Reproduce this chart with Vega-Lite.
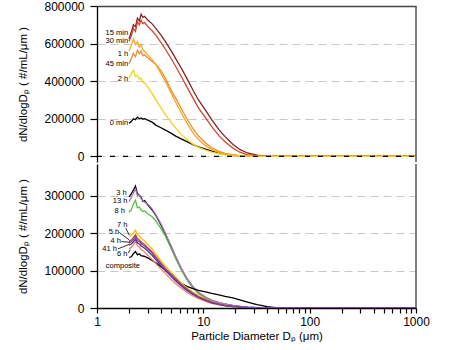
{
"$schema": "https://vega.github.io/schema/vega-lite/v6.json",
"padding": {"left": 17, "top": 0, "right": 0, "bottom": 0},
"background": "white",
"config": {
  "font": "Liberation Sans",
  "view": {"stroke": null},
  "axis": {"labelFont": "Liberation Sans", "labelFontSize": 12, "labelColor": "#000", "tickColor": "#000", "domainColor": "#000", "domainWidth": 1.3, "tickWidth": 1.2, "titleFont": "Liberation Sans", "titleFontSize": 11.5, "titleFontWeight": "normal", "titleColor": "#000", "gridColor": "#c8c8c8", "gridDash": [8, 5], "gridWidth": 1.2, "labelOverlap": false}
},
"datasets": {
"top": [
{"s":"0 min","d":2,"v":177000},{"s":"0 min","d":2.1,"v":185000},{"s":"0 min","d":2.2,"v":200000},{"s":"0 min","d":2.3,"v":195000},{"s":"0 min","d":2.4,"v":208000},{"s":"0 min","d":2.5,"v":200000},{"s":"0 min","d":2.6,"v":204000},{"s":"0 min","d":2.7,"v":198000},{"s":"0 min","d":2.8,"v":200000},{"s":"0 min","d":3,"v":193000},{"s":"0 min","d":3.3,"v":182000},{"s":"0 min","d":3.6,"v":165000},{"s":"0 min","d":4,"v":152000},{"s":"0 min","d":4.4,"v":140000},{"s":"0 min","d":5,"v":122000},{"s":"0 min","d":5.5,"v":108000},{"s":"0 min","d":6.2,"v":93000},{"s":"0 min","d":7,"v":78000},{"s":"0 min","d":8,"v":62000},{"s":"0 min","d":9,"v":50000},{"s":"0 min","d":10.5,"v":38000},{"s":"0 min","d":12,"v":28000},{"s":"0 min","d":14,"v":18000},{"s":"0 min","d":16,"v":12000},{"s":"0 min","d":19,"v":6000},{"s":"0 min","d":22,"v":3000},{"s":"0 min","d":26,"v":1200},{"s":"0 min","d":32,"v":300},{"s":"0 min","d":40,"v":0},{"s":"0 min","d":50,"v":0},{"s":"0 min","d":100,"v":0},{"s":"0 min","d":1000,"v":0},
{"s":"15 min","d":2,"v":624000},{"s":"15 min","d":2.1,"v":660000},{"s":"15 min","d":2.2,"v":700000},{"s":"15 min","d":2.3,"v":690000},{"s":"15 min","d":2.4,"v":735000},{"s":"15 min","d":2.5,"v":720000},{"s":"15 min","d":2.6,"v":756000},{"s":"15 min","d":2.7,"v":740000},{"s":"15 min","d":2.8,"v":745000},{"s":"15 min","d":3,"v":725000},{"s":"15 min","d":3.3,"v":705000},{"s":"15 min","d":3.6,"v":678000},{"s":"15 min","d":4,"v":645000},{"s":"15 min","d":4.4,"v":610000},{"s":"15 min","d":5,"v":560000},{"s":"15 min","d":5.5,"v":520000},{"s":"15 min","d":6.2,"v":470000},{"s":"15 min","d":7,"v":415000},{"s":"15 min","d":8,"v":352000},{"s":"15 min","d":9,"v":300000},{"s":"15 min","d":10.5,"v":245000},{"s":"15 min","d":12,"v":195000},{"s":"15 min","d":14,"v":142000},{"s":"15 min","d":16,"v":105000},{"s":"15 min","d":19,"v":63000},{"s":"15 min","d":22,"v":37000},{"s":"15 min","d":26,"v":18000},{"s":"15 min","d":32,"v":6000},{"s":"15 min","d":40,"v":1500},{"s":"15 min","d":50,"v":0},{"s":"15 min","d":100,"v":0},{"s":"15 min","d":1000,"v":0},
{"s":"30 min","d":2,"v":612000},{"s":"30 min","d":2.1,"v":640000},{"s":"30 min","d":2.2,"v":680000},{"s":"30 min","d":2.3,"v":665000},{"s":"30 min","d":2.4,"v":715000},{"s":"30 min","d":2.5,"v":700000},{"s":"30 min","d":2.6,"v":725000},{"s":"30 min","d":2.7,"v":705000},{"s":"30 min","d":2.8,"v":712000},{"s":"30 min","d":3,"v":690000},{"s":"30 min","d":3.3,"v":668000},{"s":"30 min","d":3.6,"v":642000},{"s":"30 min","d":4,"v":605000},{"s":"30 min","d":4.4,"v":570000},{"s":"30 min","d":5,"v":518000},{"s":"30 min","d":5.5,"v":478000},{"s":"30 min","d":6.2,"v":425000},{"s":"30 min","d":7,"v":370000},{"s":"30 min","d":8,"v":310000},{"s":"30 min","d":9,"v":258000},{"s":"30 min","d":10.5,"v":205000},{"s":"30 min","d":12,"v":158000},{"s":"30 min","d":14,"v":110000},{"s":"30 min","d":16,"v":78000},{"s":"30 min","d":19,"v":43000},{"s":"30 min","d":22,"v":22000},{"s":"30 min","d":26,"v":9000},{"s":"30 min","d":32,"v":2500},{"s":"30 min","d":40,"v":500},{"s":"30 min","d":50,"v":0},{"s":"30 min","d":100,"v":0},{"s":"30 min","d":1000,"v":0},
{"s":"45 min","d":2,"v":492000},{"s":"45 min","d":2.1,"v":520000},{"s":"45 min","d":2.2,"v":548000},{"s":"45 min","d":2.3,"v":530000},{"s":"45 min","d":2.4,"v":565000},{"s":"45 min","d":2.5,"v":545000},{"s":"45 min","d":2.6,"v":560000},{"s":"45 min","d":2.7,"v":535000},{"s":"45 min","d":2.8,"v":540000},{"s":"45 min","d":3,"v":525000},{"s":"45 min","d":3.3,"v":505000},{"s":"45 min","d":3.6,"v":488000},{"s":"45 min","d":4,"v":455000},{"s":"45 min","d":4.4,"v":415000},{"s":"45 min","d":5,"v":350000},{"s":"45 min","d":5.5,"v":310000},{"s":"45 min","d":6.2,"v":255000},{"s":"45 min","d":7,"v":200000},{"s":"45 min","d":8,"v":147000},{"s":"45 min","d":9,"v":108000},{"s":"45 min","d":10.5,"v":71000},{"s":"45 min","d":12,"v":46000},{"s":"45 min","d":14,"v":27000},{"s":"45 min","d":16,"v":16000},{"s":"45 min","d":19,"v":8000},{"s":"45 min","d":22,"v":4000},{"s":"45 min","d":26,"v":1500},{"s":"45 min","d":32,"v":500},{"s":"45 min","d":40,"v":0},{"s":"45 min","d":50,"v":0},{"s":"45 min","d":100,"v":0},{"s":"45 min","d":1000,"v":0},
{"s":"1 h","d":2,"v":560000},{"s":"1 h","d":2.1,"v":590000},{"s":"1 h","d":2.2,"v":624000},{"s":"1 h","d":2.3,"v":595000},{"s":"1 h","d":2.4,"v":610000},{"s":"1 h","d":2.5,"v":580000},{"s":"1 h","d":2.6,"v":595000},{"s":"1 h","d":2.7,"v":565000},{"s":"1 h","d":2.8,"v":560000},{"s":"1 h","d":3,"v":540000},{"s":"1 h","d":3.3,"v":515000},{"s":"1 h","d":3.6,"v":485000},{"s":"1 h","d":4,"v":440000},{"s":"1 h","d":4.4,"v":398000},{"s":"1 h","d":5,"v":335000},{"s":"1 h","d":5.5,"v":288000},{"s":"1 h","d":6.2,"v":232000},{"s":"1 h","d":7,"v":178000},{"s":"1 h","d":8,"v":125000},{"s":"1 h","d":9,"v":90000},{"s":"1 h","d":10.5,"v":57000},{"s":"1 h","d":12,"v":36000},{"s":"1 h","d":14,"v":20000},{"s":"1 h","d":16,"v":12000},{"s":"1 h","d":19,"v":6000},{"s":"1 h","d":22,"v":3000},{"s":"1 h","d":26,"v":1000},{"s":"1 h","d":32,"v":0},{"s":"1 h","d":40,"v":0},{"s":"1 h","d":50,"v":0},{"s":"1 h","d":100,"v":0},{"s":"1 h","d":1000,"v":0},
{"s":"2 h","d":2,"v":414000},{"s":"2 h","d":2.1,"v":440000},{"s":"2 h","d":2.2,"v":458000},{"s":"2 h","d":2.3,"v":425000},{"s":"2 h","d":2.4,"v":432000},{"s":"2 h","d":2.5,"v":412000},{"s":"2 h","d":2.6,"v":415000},{"s":"2 h","d":2.7,"v":395000},{"s":"2 h","d":2.8,"v":390000},{"s":"2 h","d":3,"v":370000},{"s":"2 h","d":3.3,"v":335000},{"s":"2 h","d":3.6,"v":298000},{"s":"2 h","d":4,"v":258000},{"s":"2 h","d":4.4,"v":222000},{"s":"2 h","d":5,"v":180000},{"s":"2 h","d":5.5,"v":150000},{"s":"2 h","d":6.2,"v":117000},{"s":"2 h","d":7,"v":90000},{"s":"2 h","d":8,"v":65000},{"s":"2 h","d":9,"v":48000},{"s":"2 h","d":10.5,"v":33000},{"s":"2 h","d":12,"v":22000},{"s":"2 h","d":14,"v":13000},{"s":"2 h","d":16,"v":8000},{"s":"2 h","d":19,"v":4000},{"s":"2 h","d":22,"v":2000},{"s":"2 h","d":26,"v":800},{"s":"2 h","d":32,"v":0},{"s":"2 h","d":40,"v":0},{"s":"2 h","d":50,"v":0},{"s":"2 h","d":100,"v":0},{"s":"2 h","d":1000,"v":0}
],
"bottom": [
{"s":"3 h","d":2,"v":297000},{"s":"3 h","d":2.1,"v":305000},{"s":"3 h","d":2.2,"v":315000},{"s":"3 h","d":2.3,"v":326000},{"s":"3 h","d":2.4,"v":305000},{"s":"3 h","d":2.5,"v":302000},{"s":"3 h","d":2.6,"v":296000},{"s":"3 h","d":2.7,"v":285000},{"s":"3 h","d":2.8,"v":287000},{"s":"3 h","d":3,"v":276000},{"s":"3 h","d":3.3,"v":262000},{"s":"3 h","d":3.6,"v":246000},{"s":"3 h","d":4,"v":222000},{"s":"3 h","d":4.4,"v":197000},{"s":"3 h","d":5,"v":162000},{"s":"3 h","d":5.5,"v":135000},{"s":"3 h","d":6.2,"v":105000},{"s":"3 h","d":7,"v":78000},{"s":"3 h","d":8,"v":55000},{"s":"3 h","d":9,"v":40000},{"s":"3 h","d":10.5,"v":28000},{"s":"3 h","d":12,"v":20000},{"s":"3 h","d":14,"v":14000},{"s":"3 h","d":16,"v":10000},{"s":"3 h","d":19,"v":6000},{"s":"3 h","d":22,"v":4000},{"s":"3 h","d":26,"v":2000},{"s":"3 h","d":32,"v":800},{"s":"3 h","d":40,"v":200},{"s":"3 h","d":50,"v":0},{"s":"3 h","d":100,"v":0},{"s":"3 h","d":1000,"v":0},
{"s":"8 h","d":2,"v":257000},{"s":"8 h","d":2.1,"v":262000},{"s":"8 h","d":2.2,"v":278000},{"s":"8 h","d":2.3,"v":288000},{"s":"8 h","d":2.4,"v":268000},{"s":"8 h","d":2.5,"v":270000},{"s":"8 h","d":2.6,"v":262000},{"s":"8 h","d":2.7,"v":258000},{"s":"8 h","d":2.8,"v":260000},{"s":"8 h","d":3,"v":252000},{"s":"8 h","d":3.3,"v":244000},{"s":"8 h","d":3.6,"v":232000},{"s":"8 h","d":4,"v":212000},{"s":"8 h","d":4.4,"v":192000},{"s":"8 h","d":5,"v":158000},{"s":"8 h","d":5.5,"v":132000},{"s":"8 h","d":6.2,"v":102000},{"s":"8 h","d":7,"v":76000},{"s":"8 h","d":8,"v":54000},{"s":"8 h","d":9,"v":39000},{"s":"8 h","d":10.5,"v":27000},{"s":"8 h","d":12,"v":19000},{"s":"8 h","d":14,"v":13000},{"s":"8 h","d":16,"v":9000},{"s":"8 h","d":19,"v":5500},{"s":"8 h","d":22,"v":3500},{"s":"8 h","d":26,"v":1800},{"s":"8 h","d":32,"v":600},{"s":"8 h","d":40,"v":0},{"s":"8 h","d":50,"v":0},{"s":"8 h","d":100,"v":0},{"s":"8 h","d":1000,"v":0},
{"s":"13 h","d":2,"v":284000},{"s":"13 h","d":2.1,"v":295000},{"s":"13 h","d":2.2,"v":308000},{"s":"13 h","d":2.3,"v":318000},{"s":"13 h","d":2.4,"v":300000},{"s":"13 h","d":2.5,"v":303000},{"s":"13 h","d":2.6,"v":292000},{"s":"13 h","d":2.7,"v":287000},{"s":"13 h","d":2.8,"v":283000},{"s":"13 h","d":3,"v":278000},{"s":"13 h","d":3.3,"v":265000},{"s":"13 h","d":3.6,"v":248000},{"s":"13 h","d":4,"v":225000},{"s":"13 h","d":4.4,"v":200000},{"s":"13 h","d":5,"v":165000},{"s":"13 h","d":5.5,"v":138000},{"s":"13 h","d":6.2,"v":107000},{"s":"13 h","d":7,"v":80000},{"s":"13 h","d":8,"v":57000},{"s":"13 h","d":9,"v":42000},{"s":"13 h","d":10.5,"v":29000},{"s":"13 h","d":12,"v":21000},{"s":"13 h","d":14,"v":15000},{"s":"13 h","d":16,"v":11000},{"s":"13 h","d":19,"v":7000},{"s":"13 h","d":22,"v":4500},{"s":"13 h","d":26,"v":2500},{"s":"13 h","d":32,"v":1000},{"s":"13 h","d":40,"v":300},{"s":"13 h","d":50,"v":0},{"s":"13 h","d":100,"v":0},{"s":"13 h","d":1000,"v":0},
{"s":"composite","d":2,"v":135000},{"s":"composite","d":2.1,"v":137000},{"s":"composite","d":2.2,"v":145000},{"s":"composite","d":2.3,"v":151000},{"s":"composite","d":2.4,"v":142000},{"s":"composite","d":2.5,"v":145000},{"s":"composite","d":2.6,"v":140000},{"s":"composite","d":2.7,"v":139000},{"s":"composite","d":2.8,"v":138000},{"s":"composite","d":3,"v":134000},{"s":"composite","d":3.3,"v":127000},{"s":"composite","d":3.6,"v":120000},{"s":"composite","d":4,"v":110000},{"s":"composite","d":4.4,"v":101000},{"s":"composite","d":5,"v":88000},{"s":"composite","d":5.5,"v":78000},{"s":"composite","d":6.2,"v":66000},{"s":"composite","d":7,"v":58000},{"s":"composite","d":8,"v":52000},{"s":"composite","d":9,"v":47000},{"s":"composite","d":10.5,"v":43000},{"s":"composite","d":12,"v":39000},{"s":"composite","d":14,"v":35000},{"s":"composite","d":16,"v":31000},{"s":"composite","d":19,"v":27000},{"s":"composite","d":22,"v":22000},{"s":"composite","d":26,"v":16000},{"s":"composite","d":32,"v":9000},{"s":"composite","d":40,"v":3500},{"s":"composite","d":50,"v":0},{"s":"composite","d":100,"v":0},{"s":"composite","d":1000,"v":0},
{"s":"6 h","d":2,"v":158000},{"s":"6 h","d":2.1,"v":162000},{"s":"6 h","d":2.2,"v":170000},{"s":"6 h","d":2.3,"v":178000},{"s":"6 h","d":2.4,"v":166000},{"s":"6 h","d":2.5,"v":163000},{"s":"6 h","d":2.6,"v":156000},{"s":"6 h","d":2.7,"v":153000},{"s":"6 h","d":2.8,"v":150000},{"s":"6 h","d":3,"v":141000},{"s":"6 h","d":3.3,"v":130000},{"s":"6 h","d":3.6,"v":118000},{"s":"6 h","d":4,"v":104000},{"s":"6 h","d":4.4,"v":92000},{"s":"6 h","d":5,"v":76000},{"s":"6 h","d":5.5,"v":65000},{"s":"6 h","d":6.2,"v":53000},{"s":"6 h","d":7,"v":42000},{"s":"6 h","d":8,"v":32000},{"s":"6 h","d":9,"v":25000},{"s":"6 h","d":10.5,"v":18000},{"s":"6 h","d":12,"v":12500},{"s":"6 h","d":14,"v":8500},{"s":"6 h","d":16,"v":5500},{"s":"6 h","d":19,"v":3500},{"s":"6 h","d":22,"v":2000},{"s":"6 h","d":26,"v":1000},{"s":"6 h","d":32,"v":300},{"s":"6 h","d":40,"v":0},{"s":"6 h","d":50,"v":0},{"s":"6 h","d":100,"v":0},{"s":"6 h","d":1000,"v":0},
{"s":"7 h","d":2,"v":193000},{"s":"7 h","d":2.1,"v":195000},{"s":"7 h","d":2.2,"v":200000},{"s":"7 h","d":2.3,"v":208000},{"s":"7 h","d":2.4,"v":196000},{"s":"7 h","d":2.5,"v":193000},{"s":"7 h","d":2.6,"v":186000},{"s":"7 h","d":2.7,"v":183000},{"s":"7 h","d":2.8,"v":180000},{"s":"7 h","d":3,"v":170000},{"s":"7 h","d":3.3,"v":158000},{"s":"7 h","d":3.6,"v":143000},{"s":"7 h","d":4,"v":126000},{"s":"7 h","d":4.4,"v":112000},{"s":"7 h","d":5,"v":95000},{"s":"7 h","d":5.5,"v":82000},{"s":"7 h","d":6.2,"v":67000},{"s":"7 h","d":7,"v":54000},{"s":"7 h","d":8,"v":42000},{"s":"7 h","d":9,"v":33000},{"s":"7 h","d":10.5,"v":24000},{"s":"7 h","d":12,"v":17000},{"s":"7 h","d":14,"v":11000},{"s":"7 h","d":16,"v":7500},{"s":"7 h","d":19,"v":4500},{"s":"7 h","d":22,"v":2500},{"s":"7 h","d":26,"v":1200},{"s":"7 h","d":32,"v":400},{"s":"7 h","d":40,"v":0},{"s":"7 h","d":50,"v":0},{"s":"7 h","d":100,"v":0},{"s":"7 h","d":1000,"v":0},
{"s":"5 h","d":2,"v":178000},{"s":"5 h","d":2.1,"v":182000},{"s":"5 h","d":2.2,"v":188000},{"s":"5 h","d":2.3,"v":196000},{"s":"5 h","d":2.4,"v":186000},{"s":"5 h","d":2.5,"v":182000},{"s":"5 h","d":2.6,"v":176000},{"s":"5 h","d":2.7,"v":173000},{"s":"5 h","d":2.8,"v":170000},{"s":"5 h","d":3,"v":161000},{"s":"5 h","d":3.3,"v":150000},{"s":"5 h","d":3.6,"v":136000},{"s":"5 h","d":4,"v":120000},{"s":"5 h","d":4.4,"v":106000},{"s":"5 h","d":5,"v":90000},{"s":"5 h","d":5.5,"v":78000},{"s":"5 h","d":6.2,"v":63000},{"s":"5 h","d":7,"v":51000},{"s":"5 h","d":8,"v":39000},{"s":"5 h","d":9,"v":30000},{"s":"5 h","d":10.5,"v":22000},{"s":"5 h","d":12,"v":15000},{"s":"5 h","d":14,"v":10000},{"s":"5 h","d":16,"v":6500},{"s":"5 h","d":19,"v":4000},{"s":"5 h","d":22,"v":2200},{"s":"5 h","d":26,"v":1000},{"s":"5 h","d":32,"v":300},{"s":"5 h","d":40,"v":0},{"s":"5 h","d":50,"v":0},{"s":"5 h","d":100,"v":0},{"s":"5 h","d":1000,"v":0},
{"s":"41 h","d":2,"v":168000},{"s":"41 h","d":2.1,"v":171000},{"s":"41 h","d":2.2,"v":177000},{"s":"41 h","d":2.3,"v":184000},{"s":"41 h","d":2.4,"v":174000},{"s":"41 h","d":2.5,"v":171000},{"s":"41 h","d":2.6,"v":166000},{"s":"41 h","d":2.7,"v":163000},{"s":"41 h","d":2.8,"v":160000},{"s":"41 h","d":3,"v":152000},{"s":"41 h","d":3.3,"v":141000},{"s":"41 h","d":3.6,"v":128000},{"s":"41 h","d":4,"v":113000},{"s":"41 h","d":4.4,"v":100000},{"s":"41 h","d":5,"v":84000},{"s":"41 h","d":5.5,"v":72000},{"s":"41 h","d":6.2,"v":59000},{"s":"41 h","d":7,"v":47000},{"s":"41 h","d":8,"v":36000},{"s":"41 h","d":9,"v":28000},{"s":"41 h","d":10.5,"v":20000},{"s":"41 h","d":12,"v":14000},{"s":"41 h","d":14,"v":9500},{"s":"41 h","d":16,"v":6500},{"s":"41 h","d":19,"v":4000},{"s":"41 h","d":22,"v":2500},{"s":"41 h","d":26,"v":1300},{"s":"41 h","d":32,"v":500},{"s":"41 h","d":40,"v":0},{"s":"41 h","d":50,"v":0},{"s":"41 h","d":100,"v":0},{"s":"41 h","d":1000,"v":0},
{"s":"4 h","d":2,"v":174000},{"s":"4 h","d":2.1,"v":177000},{"s":"4 h","d":2.2,"v":183000},{"s":"4 h","d":2.3,"v":191000},{"s":"4 h","d":2.4,"v":180000},{"s":"4 h","d":2.5,"v":178000},{"s":"4 h","d":2.6,"v":172000},{"s":"4 h","d":2.7,"v":169000},{"s":"4 h","d":2.8,"v":166000},{"s":"4 h","d":3,"v":158000},{"s":"4 h","d":3.3,"v":147000},{"s":"4 h","d":3.6,"v":133000},{"s":"4 h","d":4,"v":118000},{"s":"4 h","d":4.4,"v":104000},{"s":"4 h","d":5,"v":88000},{"s":"4 h","d":5.5,"v":76000},{"s":"4 h","d":6.2,"v":62000},{"s":"4 h","d":7,"v":50000},{"s":"4 h","d":8,"v":38500},{"s":"4 h","d":9,"v":30000},{"s":"4 h","d":10.5,"v":22000},{"s":"4 h","d":12,"v":15500},{"s":"4 h","d":14,"v":10500},{"s":"4 h","d":16,"v":7000},{"s":"4 h","d":19,"v":4500},{"s":"4 h","d":22,"v":2800},{"s":"4 h","d":26,"v":1500},{"s":"4 h","d":32,"v":600},{"s":"4 h","d":40,"v":100},{"s":"4 h","d":50,"v":0},{"s":"4 h","d":100,"v":0},{"s":"4 h","d":1000,"v":0}
],
"toplab": [
{"s":"15 min","d":1.96,"v":658000},{"s":"30 min","d":1.96,"v":612000},{"s":"1 h","d":1.96,"v":544000},{"s":"45 min","d":1.96,"v":491000},{"s":"2 h","d":1.96,"v":411000},{"s":"0 min","d":1.96,"v":176000}
],
"botlab": [
{"s":"3 h","d":1.9,"v":308000},{"s":"13 h","d":1.93,"v":285600},{"s":"8 h","d":1.83,"v":260000},{"s":"7 h","d":1.93,"v":221600},{"s":"5 h","d":1.62,"v":204000},{"s":"4 h","d":1.68,"v":179000},{"s":"41 h","d":1.54,"v":158000},{"s":"6 h","d":1.93,"v":144000},{"s":"composite","d":2.54,"v":112600}
],
"leaders": [
{"d":1.86,"v":214000,"d2":2.01,"v2":195000},{"d":1.62,"v":202000,"d2":2.03,"v2":181000},{"d":1.69,"v":177500,"d2":2.03,"v2":176000},{"d":1.57,"v":158000,"d2":2.01,"v2":170000},{"d":1.97,"v":147000,"d2":2.05,"v2":156000}
],
"topzero": [{"d":1,"v":0,"d2":1000}],
"topborder": [{"d":1000,"v":-30000,"v2":800000}],
"botborder": [{"d":1000,"v":0,"v2":385000}]
},
"spacing": 0,
"resolve": {"scale": {"y": "independent", "color": "independent"}},
"vconcat": [
{
 "width": 319, "height": 156,
 "encoding": {
  "x": {"field": "d", "type": "quantitative", "scale": {"type": "log", "domain": [1, 1000]}, "axis": {"orient": "top", "labels": false, "ticks": false, "title": null, "grid": false, "domainColor": "#444", "domainWidth": 1.5}},
  "y": {"field": "v", "type": "quantitative", "scale": {"domain": [-30000, 800000], "nice": false, "zero": false}, "axis": {"values": [0, 200000, 400000, 600000, 800000], "format": "d", "title": "dN/dlogDₚ ( #/mL/μm )", "grid": true, "tickSize": 7, "labelPadding": 6, "titlePadding": 15}}
 },
 "layer": [
  {"data": {"name": "top"}, "mark": {"type": "line", "strokeWidth": 1.3, "clip": true},
   "encoding": {
    "color": {"field": "s", "type": "nominal", "legend": null, "scale": {"domain": ["0 min", "15 min", "30 min", "45 min", "1 h", "2 h"], "range": ["#000000", "#7e2626", "#d8432b", "#ee8a3a", "#f4a91d", "#f6d414"]}}
   }},
  {"data": {"name": "toplab"}, "mark": {"type": "text", "align": "right", "baseline": "middle", "fontSize": 7.5, "fill": "#000"},
   "encoding": {"text": {"field": "s"}}},
  {"data": {"name": "topzero"}, "mark": {"type": "rule", "color": "#000", "strokeWidth": 1.3, "strokeDash": [5, 8]},
   "encoding": {"x2": {"field": "d2"}}},
  {"data": {"name": "topborder"}, "mark": {"type": "rule", "color": "#555", "strokeWidth": 1.5},
   "encoding": {"y2": {"field": "v2"}}}
 ]
},
{
 "width": 319, "height": 144,
 "encoding": {
  "x": {"field": "d", "type": "quantitative", "scale": {"type": "log", "domain": [1, 1000]}, "axis": {"values": [1,2,3,4,5,6,7,8,9,10,20,30,40,50,60,70,80,90,100,200,300,400,500,600,700,800,900,1000], "labelExpr": "(datum.value == 1 || datum.value == 10 || datum.value == 100 || datum.value == 1000) ? '' + datum.value : ''", "labelFlush": false, "tickSize": 5, "labelPadding": 3, "grid": false, "title": "Particle Diameter Dₚ (μm)", "titlePadding": 3}},
  "y": {"field": "v", "type": "quantitative", "scale": {"domain": [0, 385000], "nice": false}, "axis": {"values": [0, 100000, 200000, 300000], "format": "d", "title": "dN/dlogDₚ ( #/mL/μm )", "grid": true, "tickSize": 7, "labelPadding": 6, "titlePadding": 15}}
 },
 "layer": [
  {"data": {"name": "bottom"}, "mark": {"type": "line", "strokeWidth": 1.3, "clip": true},
   "encoding": {
    "color": {"field": "s", "type": "nominal", "legend": null, "scale": {"domain": ["3 h", "8 h", "13 h", "composite", "6 h", "7 h", "5 h", "41 h", "4 h"], "range": ["#000000", "#5cb946", "#a874b8", "#000000", "#f0806c", "#f7c000", "#e23a2b", "#56338a", "#7b45a0"]}}
   }},
  {"data": {"name": "botlab"}, "mark": {"type": "text", "align": "right", "baseline": "middle", "fontSize": 7.5, "fill": "#000"},
   "encoding": {"text": {"field": "s"}}},
  {"data": {"name": "leaders"}, "mark": {"type": "rule", "color": "#000", "strokeWidth": 0.8},
   "encoding": {"x2": {"field": "d2"}, "y2": {"field": "v2"}}},
  {"data": {"name": "botborder"}, "mark": {"type": "rule", "color": "#555", "strokeWidth": 1.5},
   "encoding": {"y2": {"field": "v2"}}}
 ]
}
]
}
